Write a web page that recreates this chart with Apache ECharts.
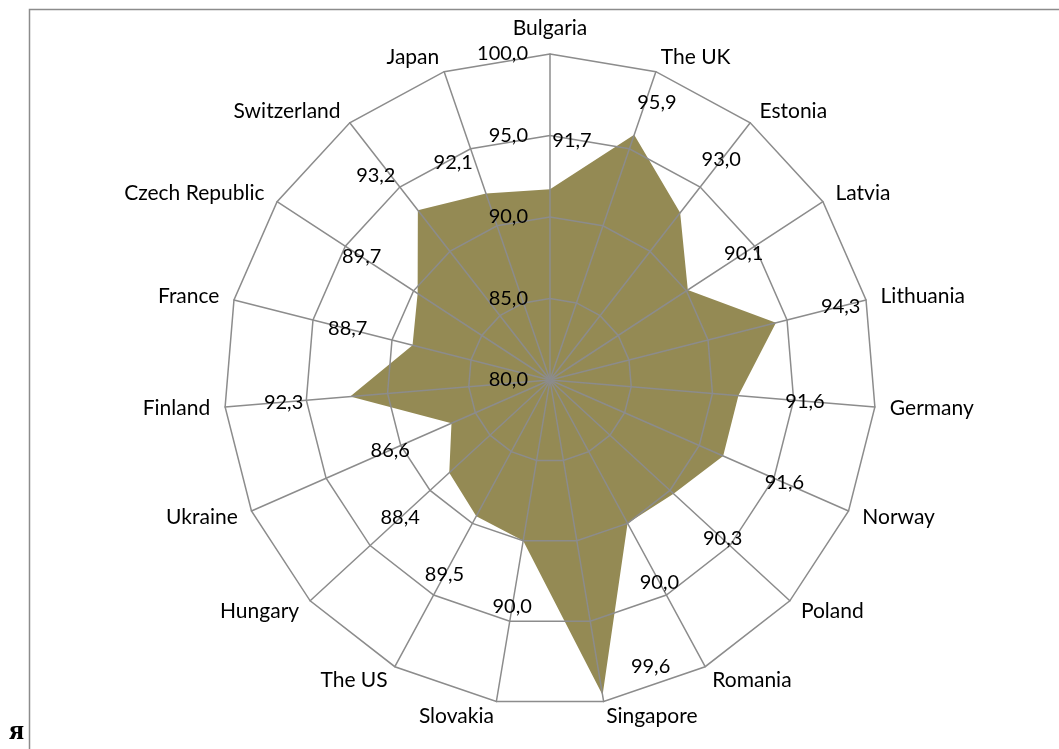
<!DOCTYPE html>
<html>
<head>
<meta charset="utf-8">
<script src="https://cdn.jsdelivr.net/npm/echarts@6/dist/echarts.min.js"></script>
<style>
  html, body { margin: 0; padding: 0; background: #fff; }
  #chart { width: 1059px; height: 749px; }
</style>
</head>
<body>
<div id="chart"></div>
<script>
// ---- data (clockwise from top) ----
const categories = ['Bulgaria', 'The UK', 'Estonia', 'Latvia', 'Lithuania', 'Germany', 'Norway',
  'Poland', 'Romania', 'Singapore', 'Slovakia', 'The US', 'Hungary', 'Ukraine', 'Finland',
  'France', 'Czech Republic', 'Switzerland', 'Japan'];
const values = [91.7, 95.9, 93.0, 90.1, 94.3, 91.6, 91.6, 90.3, 90.0, 99.6, 90.0, 89.5, 88.4,
  86.6, 92.3, 88.7, 89.7, 93.2, 92.1];
const axisMin = 80;
const axisMax = 100;
const axisStep = 5;

// ---- layout / style ----
const CENTER = [550, 380];
const RADIUS = 326;
const FONT = 'Lato';
const GRID = '#8c8c8c';
const FILL = '#948A54';
const LABEL_GAP = 4.1; // data-label distance from the point, in axis units
const labelNudge = {   // pixel nudges for hand-moved labels
  'Bulgaria': [22, 18],
  'Japan': [-11, 32],
  'The UK': [1, 31],
  'Switzerland': [-1, 18],
  'Singapore': [37, -94]
};

const fmt = v => v.toFixed(1).replace('.', ',');

// ECharts radar places indicators counter-clockwise; reorder so the picture runs clockwise
const order = [0].concat(categories.map((_, i) => i).slice(1).reverse());
const indicator = order.map((i, k) => {
  const ind = { name: categories[i], min: axisMin, max: axisMax };
  if (k === 0) {
    ind.axisLabel = { show: true, formatter: v => fmt(v) };
  }
  return ind;
});
const radarValues = order.map(i => values[i]);

const labelData = values.map((v, i) => {
  const item = { value: [v + LABEL_GAP, i] };
  if (labelNudge[categories[i]]) item.label = { offset: labelNudge[categories[i]] };
  return item;
});

const chart = echarts.init(document.getElementById('chart'), null, { renderer: 'canvas' });
chart.setOption({
  animation: false,
  backgroundColor: '#fff',
  radar: {
    z: 3,
    center: CENTER,
    radius: RADIUS,
    startAngle: 90,
    shape: 'polygon',
    splitNumber: (axisMax - axisMin) / axisStep,
    indicator: indicator,
    nameGap: 15,
    axisName: { color: '#000', fontFamily: FONT, fontSize: 21 },
    axisLine: { lineStyle: { color: GRID, width: 1.5 } },
    splitLine: { lineStyle: { color: GRID, width: 1.5 } },
    splitArea: { show: false },
    axisTick: { show: false },
    axisLabel: { show: false, color: '#000', fontFamily: FONT, fontSize: 20, margin: 22 }
  },
  polar: { center: CENTER, radius: RADIUS },
  angleAxis: { type: 'value', min: 0, max: categories.length, startAngle: 90, clockwise: true, show: false },
  radiusAxis: { type: 'value', min: axisMin, max: axisMax, show: false },
  series: [
    {
      type: 'radar',
      z: 2,
      symbol: 'none',
      lineStyle: { width: 0 },
      areaStyle: { color: FILL, opacity: 1 },
      data: [{ value: radarValues }]
    },
    {
      type: 'scatter',
      coordinateSystem: 'polar',
      z: 5,
      clip: false,
      symbolSize: 0,
      silent: true,
      itemStyle: { opacity: 1 },
      label: {
        show: true,
        position: 'inside',
        align: 'center',
        verticalAlign: 'middle',
        color: '#000',
        opacity: 1,
        fontFamily: FONT,
        fontSize: 20,
        formatter: p => fmt(values[p.value[1]])
      },
      data: labelData
    }
  ],
  graphic: [
    {
      type: 'polyline',
      shape: { points: [[29.5, 749], [29.5, 9.5], [1059, 9.5]] },
      style: { stroke: GRID, lineWidth: 1.5, fill: null }
    },
    {
      type: 'text',
      left: 9,
      top: 718,
      style: { text: 'я', font: 'bold 28px "Liberation Serif"', fill: '#000' }
    }
  ]
});
</script>
</body>
</html>
